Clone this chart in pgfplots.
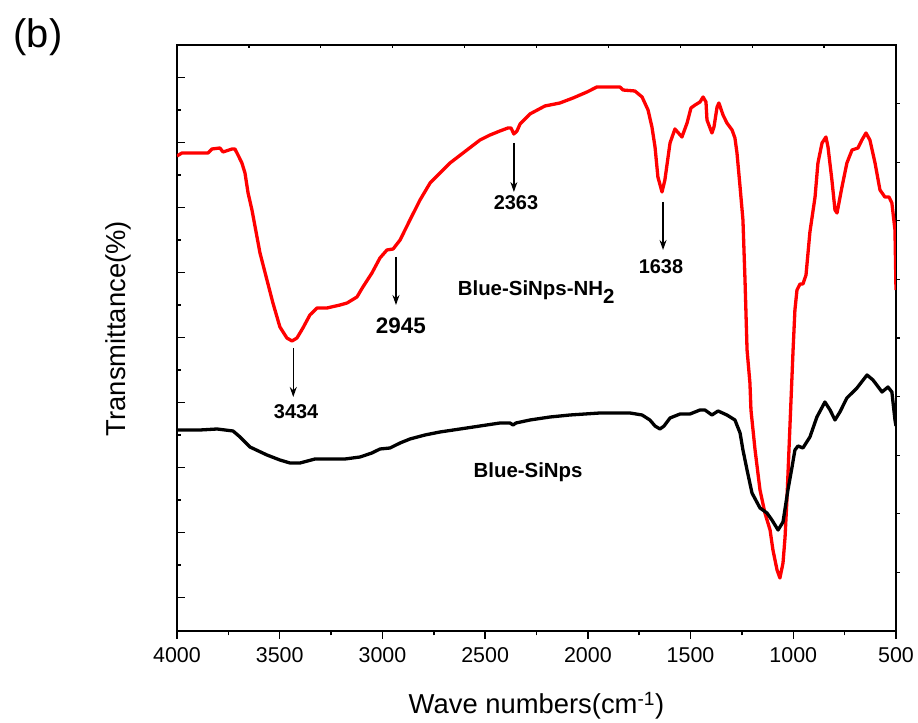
\documentclass[border=0pt]{standalone}
\usepackage{fontspec}
\setmainfont{Liberation Sans}
\usepackage{pgfplots}
\pgfplotsset{compat=1.18}
\usetikzlibrary{arrows.meta,calc}

\pgfplotstableread{
wn   T
4000 475
3976 478
3849 478
3830 482
3791 483
3776 479
3732 482
3718 482
3703 476
3684 468
3669 458
3654 438
3635 421
3596 378
3562 351
3533 328
3499 304
3465 293
3440 290
3416 293
3387 303
3353 316
3318 323
3270 323
3206 326
3172 328
3124 334
3095 344
3051 358
3012 373
2978 381
2948 382
2914 391
2866 411
2817 431
2768 448
2671 468
2525 491
2476 496
2428 500
2389 503
2374 503
2360 497
2345 500
2330 507
2282 517
2209 525
2136 528
2072 533
2004 539
1956 544
1844 544
1829 541
1771 540
1736 534
1707 521
1688 504
1673 484
1659 454
1639 439
1625 451
1600 488
1576 502
1542 494
1517 508
1498 523
1478 526
1454 529
1439 534
1425 529
1420 511
1396 498
1386 504
1371 524
1362 528
1342 516
1323 508
1298 501
1284 493
1274 478
1259 444
1245 411
1235 351
1225 281
1211 248
1206 221
1186 181
1162 141
1138 118
1113 101
1099 81
1079 61
1065 53
1050 68
1040 94
1031 131
1021 181
1011 231
1001 281
992 321
982 341
967 347
953 347
938 356
919 399
894 434
880 468
860 488
841 494
831 484
812 451
797 421
787 418
763 444
739 468
714 481
685 483
666 491
646 498
627 491
602 468
578 441
554 434
534 434
520 428
505 401
500 341
}\nhtwo

\pgfplotstableread{
wn   T
4000 201
3888 201
3805 202
3727 200
3693 194
3645 184
3562 176
3499 171
3450 168
3401 168
3328 172
3255 172
3182 172
3109 174
3051 178
3012 182
2963 183
2914 188
2866 192
2793 196
2720 199
2622 202
2525 205
2428 208
2379 208
2364 206
2350 208
2282 211
2184 214
2087 216
1941 218
1795 218
1736 216
1698 211
1673 205
1649 202
1629 205
1600 213
1551 217
1503 217
1454 221
1430 221
1396 216
1366 220
1323 216
1284 211
1259 198
1245 181
1225 161
1201 138
1162 123
1128 118
1104 111
1074 101
1050 109
1026 141
1006 164
992 181
977 185
953 183
919 194
885 214
846 229
821 221
797 211
773 219
739 233
690 243
641 256
612 251
568 239
539 244
520 239
505 211
500 205
}\bare

\begin{document}
\begin{tikzpicture}
\begin{axis}[
  name=ax,
  scale only axis, width=719bp, height=586bp,
  x dir=reverse, xmin=500, xmax=4000, ymin=0, ymax=586,
  xtick={500,1000,...,4000}, minor x tick num=1,
  ytick={33.3,98.3,163.3,228.3,293.3,358.3,423.3,488.3,553.3}, yticklabels={},
  minor y tick num=1,
  xtick pos=bottom, ytick pos=left,
  xtick align=outside, ytick align=inside,
  major tick length=8bp, minor tick length=4.5bp,
  axis line style={line width=1.7bp},
  every tick/.style={line width=1.5bp, black},
  tick label style={font=\fontsize{21.5}{21.5}\selectfont},
  xticklabel style={yshift=-5bp},
  /pgf/number format/assume math mode=true,
  /pgf/number format/set thousands separator={},
]
\addplot[red, line width=3.3bp, line join=round] table[x=wn, y=T] {\nhtwo};
\addplot[black, line width=3.3bp, line join=round] table[x=wn, y=T] {\bare};

\draw[-{Stealth[length=10bp,width=7bp]}, line width=1.3bp] (axis cs:3434,283) -- (axis cs:3434,234);
\node[font=\fontsize{20}{20}\selectfont\bfseries] at (axis cs:3420,219) {3434};
\draw[-{Stealth[length=10bp,width=7bp]}, line width=1.3bp] (axis cs:2934,374) -- (axis cs:2934,326);
\node[font=\fontsize{22.5}{22.5}\selectfont\bfseries] at (axis cs:2910,305) {2945};
\draw[-{Stealth[length=10bp,width=7bp]}, line width=1.3bp] (axis cs:2360,488) -- (axis cs:2360,439);
\node[font=\fontsize{20}{20}\selectfont\bfseries] at (axis cs:2350,428) {2363};
\draw[-{Stealth[length=10bp,width=7bp]}, line width=1.3bp] (axis cs:1634,429) -- (axis cs:1634,381);
\node[font=\fontsize{20}{20}\selectfont\bfseries] at (axis cs:1644,364) {1638};
\node[font=\fontsize{20.5}{20.5}\selectfont\bfseries, anchor=base west] at (axis cs:2650,335) {Blue-SiNps-NH\raisebox{-0.35em}{2}};
\node[font=\fontsize{20.5}{20.5}\selectfont\bfseries] at (axis cs:2291,159) {Blue-SiNps};
\end{axis}

% small mirrored ticks on the top and right edges
\foreach \f in {0.1,0.2,...,0.95} {
  \draw[line width=1.2bp] ($(ax.south east)!\f!(ax.north east)$) -- ++(3.5bp,0);
  \draw[line width=1.2bp] ($(ax.north west)!\f!(ax.north east)$) -- ++(0,-3.5bp);
}

\node[font=\fontsize{27.5}{27.5}\selectfont, rotate=90] at ($([xshift=-59bp]ax.south west)!0.516!([xshift=-59bp]ax.north west)$) {Transmittance(\%)};
\node[font=\fontsize{27.5}{27.5}\selectfont, anchor=base] at ($([yshift=-83bp]ax.south west)!0.5!([yshift=-83bp]ax.south east)$) {Wave numbers(cm\textsuperscript{-1})};
\node[font=\fontsize{40}{40}\selectfont] at ([xshift=-139bp,yshift=8bp]ax.north west) {(b)};

\path ([xshift=-177bp,yshift=-91bp]ax.south west) rectangle ([xshift=22bp,yshift=45bp]ax.north east);
\end{tikzpicture}
\end{document}
